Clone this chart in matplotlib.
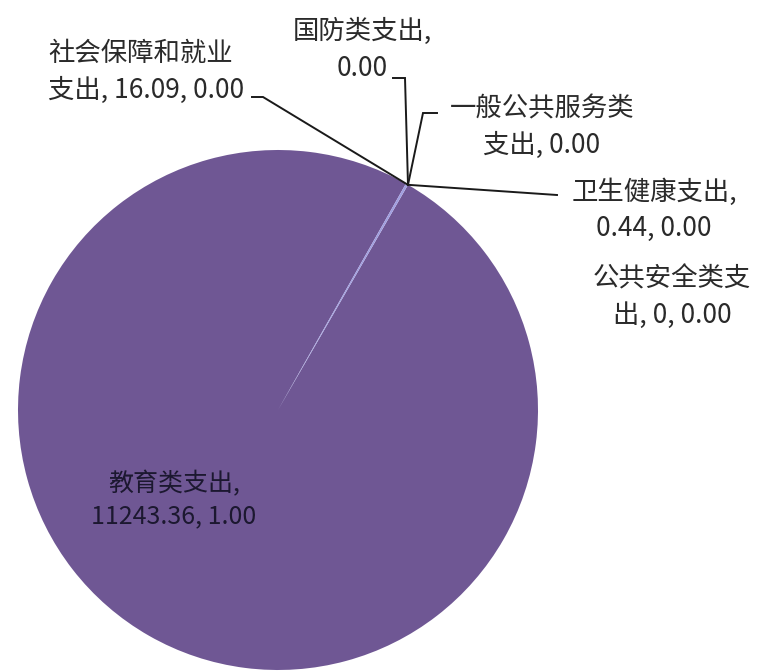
import numpy as np
import matplotlib
matplotlib.use("Agg")
import matplotlib.pyplot as plt

plt.rcParams['font.family'] = ['Noto Sans CJK SC', 'DejaVu Sans']

# 支出类别与金额
categories = ["教育类支出", "社会保障和就业支出", "卫生健康支出", "国防类支出", "一般公共服务类支出", "公共安全类支出"]
amounts = [11243.36, 16.09, 0.44, 0, 0, 0]
labels = [
    "教育类支出,\n11243.36, 1.00",
    "社会保障和就业\n支出, 16.09, 0.00",
    "卫生健康支出,\n0.44, 0.00",
    "国防类支出,\n0.00",
    "一般公共服务类\n支出, 0.00",
    "公共安全类支\n出, 0, 0.00",
]
colors = ["#6f5794", "#a09ee0", "#b7b2e4", "#8c7cc0", "#a99bd0", "#c4b8e0"]

W, H = 761, 672
CX, CY, R = 278, 410, 260


def px(x, y):
    # pixel position (from top-left) -> data coords, pie radius = 1
    return (x - CX) / R, (CY - y) / R


fig = plt.figure(figsize=(W / 100, H / 100), dpi=100)
ax = fig.add_axes([0, 0, 1, 1])

wedges, _ = ax.pie(amounts, colors=colors, startangle=60, counterclock=False,
                   radius=1, center=(0, 0), frame=True,
                   wedgeprops=dict(linewidth=0))
ax.set_xlim(px(0, 0)[0], px(W, 0)[0])
ax.set_ylim(px(0, H)[1], px(0, 0)[1])
ax.axis("off")

# text block centres and leader elbows (pixels)
text_pos = [(174, 500), (48, 72), (654, 210), (362, 50), (542, 127), (672, 297)]
text_ha = ["center", "left", "center", "center", "center", "center"]
elbows = [None, [(263, 97), (252, 97)], [(557, 195)], [(405, 78), (393, 78)],
          [(423, 113), (437, 113)], None]

for i, w in enumerate(wedges):
    mid = np.deg2rad((w.theta1 + w.theta2) / 2)
    tip = (np.cos(mid), np.sin(mid))
    if elbows[i] is not None:
        pts = [tip] + [px(*p) for p in elbows[i]]
        xs, ys = zip(*pts)
        ax.plot(xs, ys, color="#1a1a1a", lw=1.4, solid_joinstyle="miter")
    tx, ty = px(*text_pos[i])
    if i == 0:
        ax.text(tx, ty, labels[i], ha="center", va="center", fontsize=18,
                color="#1c1830", linespacing=1.3, fontweight="medium")
    else:
        ax.text(tx, ty, labels[i], ha=text_ha[i], va="center", fontsize=19,
                color="#2a2a2a", linespacing=1.45, multialignment=text_ha[i])

fig.savefig("out.png", dpi=100, facecolor="white")
